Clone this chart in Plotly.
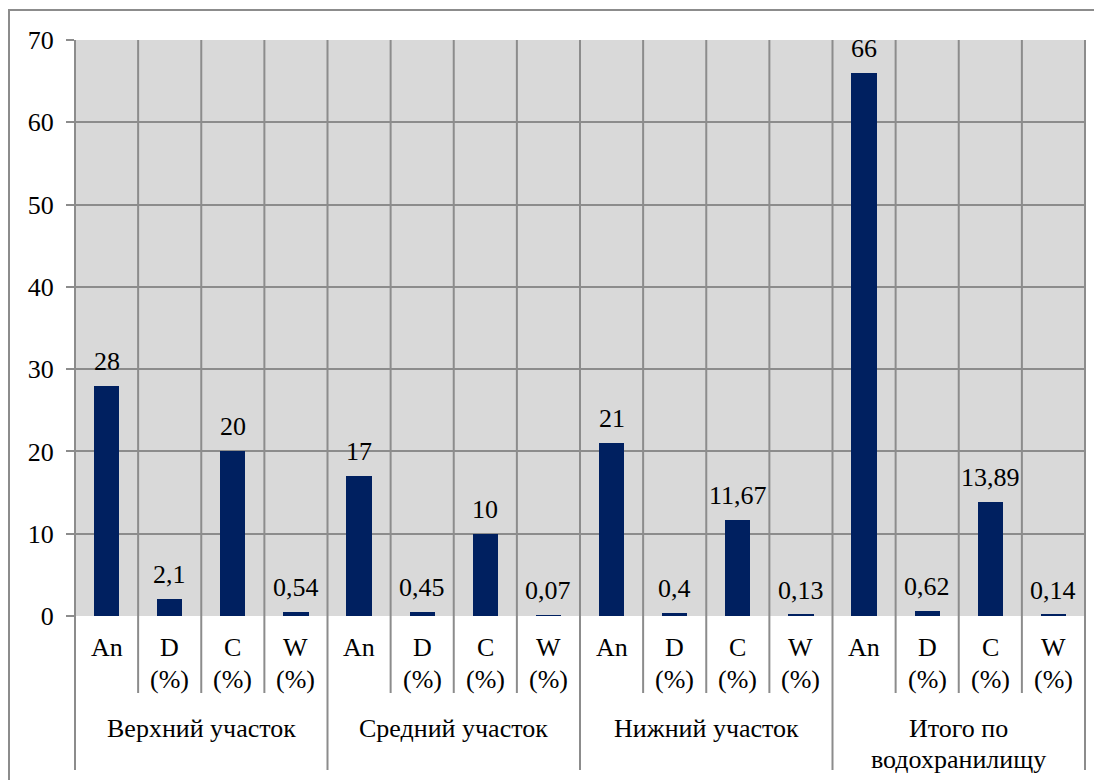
import plotly.graph_objects as go

groups = ["Верхний участок", "Средний участок", "Нижний участок", "Итого по<br>водохранилищу"]
params = ["An", "D", "C", "W"]
units = ["", "(%)", "(%)", "(%)"]

an = [28, 17, 21, 66]
d = [2.1, 0.45, 0.4, 0.62]
c = [20, 10, 11.67, 13.89]
w = [0.54, 0.07, 0.13, 0.14]

# page has an 8px body margin, so the figure is a bit smaller than the window
W, H = 1094, 772
ML, MR, MT, MB = 67, 17, 32, 164
PW, PH = W - ML - MR, H - MT - MB
FONT = "Liberation Serif"
FS = 26
GRID = "#8c8c8c"

values = []
for i in range(len(groups)):
    values += [an[i], d[i], c[i], w[i]]
n = len(values)
xs = list(range(n))
labels = [f"{v:g}".replace(".", ",") for v in values]


def py(px_below):
    # pixels below the plot bottom -> paper y
    return -px_below / PH


fig = go.Figure(go.Bar(x=xs, y=values, width=0.4, marker_color="#002060",
                       marker_line_width=0, hoverinfo="skip"))

shapes = []
for k in range(n + 1):
    xp = k / n
    depth = 154 if k % 4 == 0 else 77
    shapes.append(dict(type="line", xref="paper", yref="paper", x0=xp, x1=xp,
                       y0=py(depth), y1=1, line=dict(color=GRID, width=2), layer="above"))
# outer border
shapes.append(dict(type="rect", xref="paper", yref="paper",
                   x0=(1 - ML) / PW, x1=(W + 5 - ML) / PW,
                   y0=py(MB + 5), y1=1 + (MT - 2) / PH,
                   line=dict(color="#8c8c8c", width=2), fillcolor="rgba(0,0,0,0)"))

txt = dict(size=FS, color="black")
ann = []
for x, v, t in zip(xs, values, labels):
    ann.append(dict(x=x, y=v, xref="x", yref="y", text=t, showarrow=False,
                    yanchor="bottom", yshift=8, font=txt))
for i in range(n):
    p = i % 4
    ann.append(dict(x=i, y=py(31), xref="x", yref="paper", text=params[p],
                    showarrow=False, yanchor="middle", font=txt))
    if units[p]:
        ann.append(dict(x=i, y=py(63), xref="x", yref="paper", text=units[p],
                        showarrow=False, yanchor="middle", font=txt))
for g, name in enumerate(groups):
    lines = name.split("<br>")
    ys = [112] if len(lines) == 1 else [112, 143]
    for line, yy in zip(lines, ys):
        ann.append(dict(x=g * 4 + 1.5, y=py(yy), xref="x", yref="paper", text=line,
                        showarrow=False, yanchor="middle", font=txt))

fig.update_layout(
    width=W, height=H,
    margin=dict(l=ML, r=MR, t=MT, b=MB),
    paper_bgcolor="white", plot_bgcolor="#d9d9d9",
    font=dict(family=FONT, size=FS, color="black"),
    showlegend=False, bargap=0,
    shapes=shapes, annotations=ann,
)
fig.update_xaxes(range=[-0.5, n - 0.5], showticklabels=False, showgrid=False,
                 zeroline=False, showline=False, ticks="")
fig.update_yaxes(range=[0, 70], dtick=10, showgrid=True, gridcolor=GRID, gridwidth=2,
                 zeroline=False, showline=False, ticks="outside", ticklen=8,
                 tickcolor=GRID, tickwidth=2, ticklabelstandoff=7,
                 tickfont=dict(size=FS, color="black"))

fig.write_html("out.html")
